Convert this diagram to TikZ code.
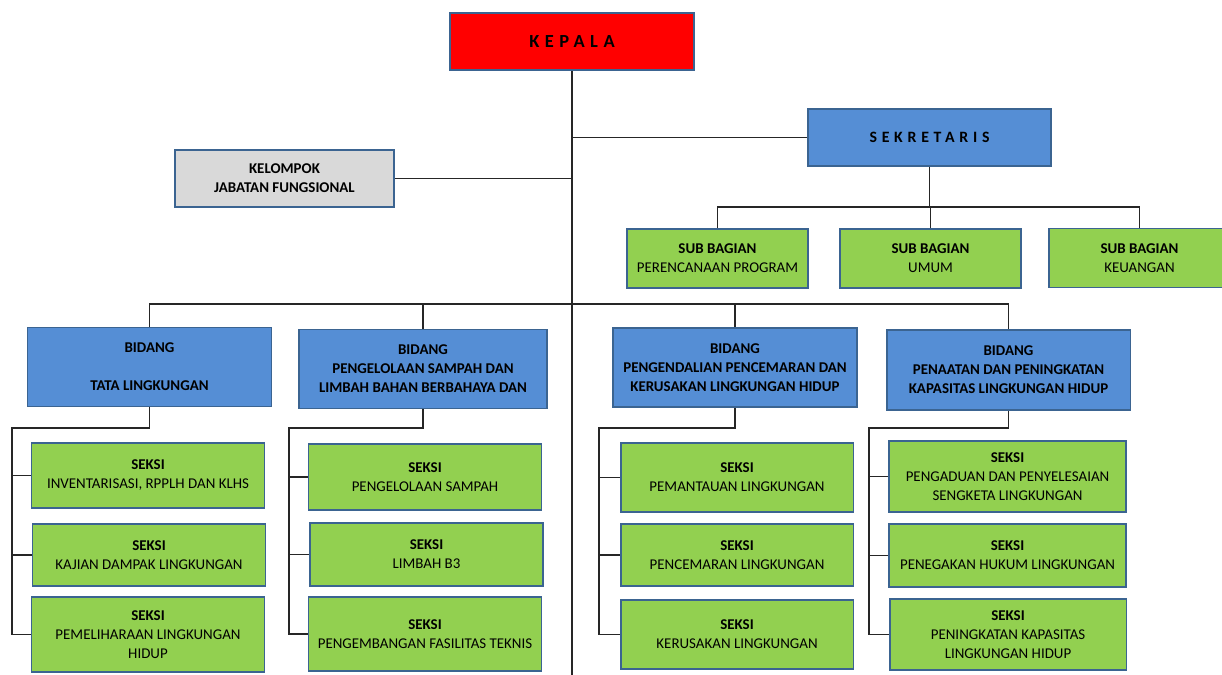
\documentclass[tikz,border=0pt]{standalone}
\usepackage{fontspec}
\setmainfont{Carlito}
\newfontfamily\widefont[LetterSpace=30]{Carlito}
\usetikzlibrary{positioning}

\definecolor{kepalared}{HTML}{FF0000}
\definecolor{bidangblue}{HTML}{558ED5}
\definecolor{boxedge}{HTML}{3B6491}
\definecolor{seksigreen}{HTML}{92D050}
\definecolor{fungsigray}{HTML}{D9D9D9}

\tikzset{
  box/.style={draw=boxedge, line width=1.1pt, align=center, inner sep=2pt,
    font=\fontsize{8.5}{10.8}\selectfont},
  kepalabox/.style={box, fill=kepalared, minimum width=4.88cm, minimum height=1.14cm},
  sekbox/.style={box, fill=bidangblue, minimum width=4.86cm, minimum height=1.14cm},
  fungsibox/.style={box, fill=fungsigray, minimum width=4.38cm, minimum height=1.14cm},
  subbox/.style={box, fill=seksigreen, minimum width=3.62cm, minimum height=1.18cm},
  bidangbox/.style={box, fill=bidangblue, minimum width=4.88cm, minimum height=1.58cm},
  seksibox/.style={box, fill=seksigreen, minimum width=4.66cm},
  link/.style={draw=black!85, line width=0.8pt}
}

\begin{document}
\begin{tikzpicture}[x=0.02cm, y=-0.02cm]
        \useasboundingbox (0,0) rectangle (1222,675);

        % Pimpinan
        \node[kepalabox] (kepala) at (572,41.5)
            {\fontsize{10.5}{12}\selectfont\widefont\bfseries KEPALA};
        \node[sekbox] (sekretaris) at (929.5,137.5)
            {\fontsize{9}{11}\selectfont\widefont\bfseries SEKRETARIS};
        \node[fungsibox] (kelompok) at (284.5,178.5)
            {\textbf{KELOMPOK}\\\textbf{JABATAN FUNGSIONAL}};

        % Sub bagian
        \node[subbox] (subpp)    at (717.5,258.5) {\textbf{SUB BAGIAN}\\PERENCANAAN PROGRAM};
        \node[subbox] (subumum)  at (930.5,258.5) {\textbf{SUB BAGIAN}\\UMUM};
        \node[subbox] (subkeu)   at (1139.5,258)  {\textbf{SUB BAGIAN}\\KEUANGAN};

        % Bidang
        \node[bidangbox] (b1) at (149.5,367)  {\textbf{BIDANG}\\[10.8pt]\textbf{TATA LINGKUNGAN}};
        \node[bidangbox, minimum width=4.96cm] (b2) at (423,369)
            {\textbf{BIDANG}\\\textbf{PENGELOLAAN SAMPAH DAN}\\\textbf{LIMBAH BAHAN BERBAHAYA DAN}};
        \node[bidangbox] (b3) at (735,367.5)
            {\textbf{BIDANG}\\\textbf{PENGENDALIAN PENCEMARAN DAN}\\\textbf{KERUSAKAN LINGKUNGAN HIDUP}};
        \node[bidangbox, minimum height=1.6cm] (b4) at (1008.5,370)
            {\textbf{BIDANG}\\\textbf{PENAATAN DAN PENINGKATAN}\\\textbf{KAPASITAS LINGKUNGAN HIDUP}};

        % Seksi
        \node[seksibox, minimum height=1.30cm] (s11) at (148,475.5) {\textbf{SEKSI}\\INVENTARISASI, RPPLH DAN KLHS};
        \node[seksibox, minimum height=1.24cm] (s12) at (149,555)   {\textbf{SEKSI}\\KAJIAN DAMPAK LINGKUNGAN};
        \node[seksibox, minimum height=1.50cm] (s13) at (148,634.5) {\textbf{SEKSI}\\PEMELIHARAAN LINGKUNGAN\\HIDUP};

        \node[seksibox, minimum height=1.32cm] (s21) at (425,477)   {\textbf{SEKSI}\\PENGELOLAAN SAMPAH};
        \node[seksibox, minimum height=1.26cm] (s22) at (426.5,554.5) {\textbf{SEKSI}\\LIMBAH B3};
        \node[seksibox, minimum height=1.48cm] (s23) at (425,634)   {\textbf{SEKSI}\\PENGEMBANGAN FASILITAS TEKNIS};

        \node[seksibox, minimum height=1.38cm] (s31) at (737,477.5) {\textbf{SEKSI}\\PEMANTAUAN LINGKUNGAN};
        \node[seksibox, minimum height=1.24cm] (s32) at (737,555)   {\textbf{SEKSI}\\PENCEMARAN LINGKUNGAN};
        \node[seksibox, minimum height=1.38cm] (s33) at (737,634.5) {\textbf{SEKSI}\\KERUSAKAN LINGKUNGAN};

        \node[seksibox, minimum width=4.74cm, minimum height=1.42cm] (s41) at (1007.5,476.5)
            {\textbf{SEKSI}\\PENGADUAN DAN PENYELESAIAN\\SENGKETA LINGKUNGAN};
        \node[seksibox, minimum width=4.74cm, minimum height=1.26cm] (s42) at (1007.5,555.5)
            {\textbf{SEKSI}\\PENEGAKAN HUKUM LINGKUNGAN};
        \node[seksibox, minimum width=4.74cm, minimum height=1.42cm] (s43) at (1008,634.5)
            {\textbf{SEKSI}\\PENINGKATAN KAPASITAS\\LINGKUNGAN HIDUP};

        % Garis
        \coordinate (bottom) at (572,675);
        \coordinate (sekbus) at (930,207);
        \coordinate (mainbus) at (572,304);

        \draw[link] (kepala.south) -- (bottom);
        \draw[link] (sekretaris.west) -- (sekretaris.west -| bottom);
        \draw[link] (kelompok.east) -- (kelompok.east -| bottom);

        \draw[link] (sekretaris.south) -- (sekretaris.south |- sekbus);
        \draw[link] (subpp.north) |- (subkeu.north |- sekbus) -- (subkeu.north);
        \draw[link] (subumum.north) -- (subumum.north |- sekbus);

        \draw[link] (b1.north) |- (b4.north |- mainbus) -- (b4.north);
        \foreach \b in {b2,b3} \draw[link] (\b.north) -- (\b.north |- mainbus);

        \foreach \c/\x in {1/12, 2/289, 3/599, 4/869} {
            \coordinate (k\c) at (\x,428);
            \draw[link] (b\c.south) |- (k\c) |- (s\c3.west);
            \foreach \r in {1,2} \draw[link] (k\c |- s\c\r.west) -- (s\c\r.west);
        }
    \end{tikzpicture}
\end{document}
